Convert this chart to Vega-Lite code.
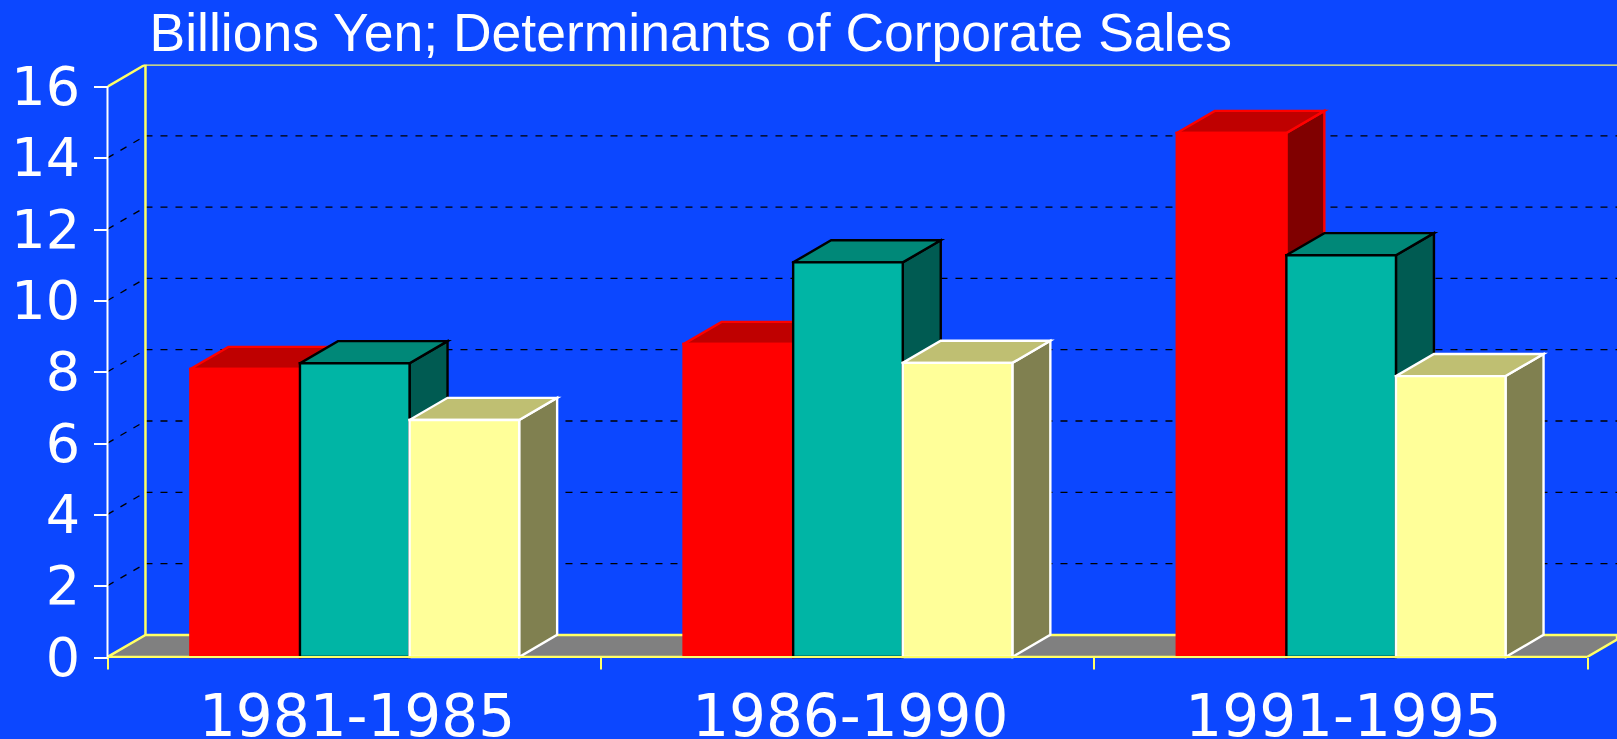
{
"$schema":"https://vega.github.io/schema/vega-lite/v6.json",
"width":1509.5,"height":592.5,
"autosize":{"type":"none"},
"padding":{"left":107.5,"top":64.5,"right":0,"bottom":82},
"background":"#0C47FF",
"title":{"text":"Billions Yen; Determinants of Corporate Sales","anchor":"start","frame":"group","dx":42,"dy":55,"offset":12,"font":"Liberation Sans","fontSize":53.5,"fontWeight":"normal","color":"#FFFFFF","baseline":"alphabetic","limit":1500},
"config":{"view":{"stroke":null}},
"datasets":{
"bars":[
{"period":"1981-1985","series":"A","value":8.08},
{"period":"1981-1985","series":"B","value":8.24},
{"period":"1981-1985","series":"C","value":6.65},
{"period":"1986-1990","series":"A","value":8.78},
{"period":"1986-1990","series":"B","value":11.07},
{"period":"1986-1990","series":"C","value":8.25},
{"period":"1991-1995","series":"A","value":14.7},
{"period":"1991-1995","series":"B","value":11.27},
{"period":"1991-1995","series":"C","value":7.88}],
"levels":[{"level":2},{"level":4},{"level":6},{"level":8},{"level":10},{"level":12},{"level":14}],
"floor":[{"fx":0,"fy":0,"i":0},{"fx":0.077,"fy":0.62,"i":1},{"fx":3.0606,"fy":0.62,"i":2},{"fx":3.0606,"fy":0.488,"i":3},{"fx":3,"fy":0,"i":4},{"fx":0,"fy":0,"i":5}],
"walls":[{"ax":0.077,"ay":0.62,"bx":0.077,"by":16.62},{"ax":0.077,"ay":16.62,"bx":3.0606,"by":16.62},{"ax":0,"ay":16,"bx":0.077,"by":16.62}]
},
"layer":[
{"data":{"name":"floor"},"mark":{"type":"line","fill":"#808080","stroke":"#FFFF66","strokeWidth":2.5,"clip":true},
 "encoding":{"x":{"field":"fx","type":"quantitative","scale":{"domain":[0,3.0606],"nice":false,"zero":false},
   "axis":{"values":[0,1,2,3],"title":null,"domain":false,"grid":false,"tickColor":"#FFFF66","tickWidth":2,"tickSize":12,
     "labelExpr":"datum.value==0?'1981-1985':datum.value==1?'1986-1990':datum.value==2?'1991-1995':''",
     "labelOffset":249,"labelPadding":66,"labelBaseline":"alphabetic","labelFont":"DejaVu Sans","labelFontSize":58,"labelLimit":0,"labelColor":"#FFFFFF","labelOverlap":false,"labelFlush":false,"labelBound":false}},
  "y":{"field":"fy","type":"quantitative","scale":{"domain":[0,16.62],"nice":false,"zero":false},
   "axis":{"values":[0,2,4,6,8,10,12,14,16],"title":null,"domain":false,"grid":false,"tickColor":"#FFFFFF","tickWidth":2,"tickSize":14,"labelPadding":14,"labelOffset":2,"labelFont":"DejaVu Sans","labelFontSize":54,"labelColor":"#FFFFFF","labelOverlap":false,"labelFlush":false,"labelBound":false}},
  "order":{"field":"i","type":"quantitative"}}},
{"data":{"name":"levels"},"transform":[{"calculate":"datum.level+0.62","as":"back"},{"calculate":"0.077","as":"bx"},{"calculate":"3.0606","as":"ex"}],
 "mark":{"type":"rule","color":"#000000","strokeWidth":1.3,"strokeDash":[7,8],"clip":true},
 "encoding":{"x":{"field":"bx","type":"quantitative"},"x2":{"field":"ex"},"y":{"field":"back","type":"quantitative"}}},
{"data":{"name":"levels"},"transform":[{"calculate":"datum.level+0.62","as":"back"},{"calculate":"0","as":"ax"},{"calculate":"0.077","as":"bx"}],
 "mark":{"type":"rule","color":"#000000","strokeWidth":1.3,"strokeDash":[7,8]},
 "encoding":{"x":{"field":"ax","type":"quantitative"},"x2":{"field":"bx"},"y":{"field":"level","type":"quantitative"},"y2":{"field":"back"}}},
{"data":{"name":"walls"},"mark":{"type":"rule","color":"#FFFF66","strokeWidth":2.5,"clip":true},
 "encoding":{"x":{"field":"ax","type":"quantitative"},"x2":{"field":"bx"},"y":{"field":"ay","type":"quantitative"},"y2":{"field":"by"}}},
{"data":{"name":"bars"},
 "transform":[
 {"calculate":"indexof(['1981-1985','1986-1990','1991-1995'],datum.period)+0.168+indexof(['A','B','C'],datum.series)*2/9","as":"x0"},
 {"calculate":"datum.x0+2/9","as":"x1"},
 {"calculate":"['side','top','front']","as":"face"},
 {"flatten":["face"]},
 {"calculate":"datum.face=='side'?[datum.x1,datum.x1+0.077,datum.x1+0.077,datum.x1,datum.x1]:datum.face=='top'?[datum.x0,datum.x0+0.077,datum.x1+0.077,datum.x1,datum.x0]:[datum.x0,datum.x0,datum.x1,datum.x1,datum.x0]","as":"vx"},
 {"calculate":"datum.face=='side'?[0,0.62,datum.value+0.62,datum.value,0]:datum.face=='top'?[datum.value,datum.value+0.62,datum.value+0.62,datum.value,datum.value]:[0,datum.value,datum.value,0,0]","as":"vy"},
 {"calculate":"[0,1,2,3,4]","as":"vi"},
 {"flatten":["vx","vy","vi"]},
 {"calculate":"datum.series+'|'+datum.face","as":"key"},
 {"calculate":"datum.period+'|'+datum.series+'|'+datum.face","as":"poly"}],
 "mark":{"type":"line","strokeWidth":2.4,"strokeJoin":"miter","strokeCap":"square"},
 "encoding":{"x":{"field":"vx","type":"quantitative"},"y":{"field":"vy","type":"quantitative"},
  "detail":{"field":"poly"},"order":{"field":"vi","type":"quantitative"},
  "fill":{"field":"key","type":"nominal","legend":null,"scale":{"domain":["A|side","A|top","A|front","B|side","B|top","B|front","C|side","C|top","C|front"],"range":["#800000","#BF0000","#FF0000","#005B52","#008878","#00B5A5","#808050","#BFBF72","#FFFF99"]}},
  "stroke":{"field":"series","type":"nominal","legend":null,"scale":{"domain":["A","B","C"],"range":["#FF0000","#000000","#FFFFFF"]}}}},
{"data":{"values":[{"a":0,"b":3,"z":0}]},"mark":{"type":"rule","color":"#FFFF66","strokeWidth":2},
 "encoding":{"x":{"field":"a","type":"quantitative"},"x2":{"field":"b"},"y":{"field":"z","type":"quantitative"}}},
{"data":{"values":[{"a":0,"z0":0,"z1":16}]},"mark":{"type":"rule","color":"#FFFFFF","strokeWidth":2},
 "encoding":{"x":{"field":"a","type":"quantitative"},"y":{"field":"z0","type":"quantitative"},"y2":{"field":"z1"}}}
],
"resolve":{"scale":{"fill":"independent","stroke":"independent"}}
}
